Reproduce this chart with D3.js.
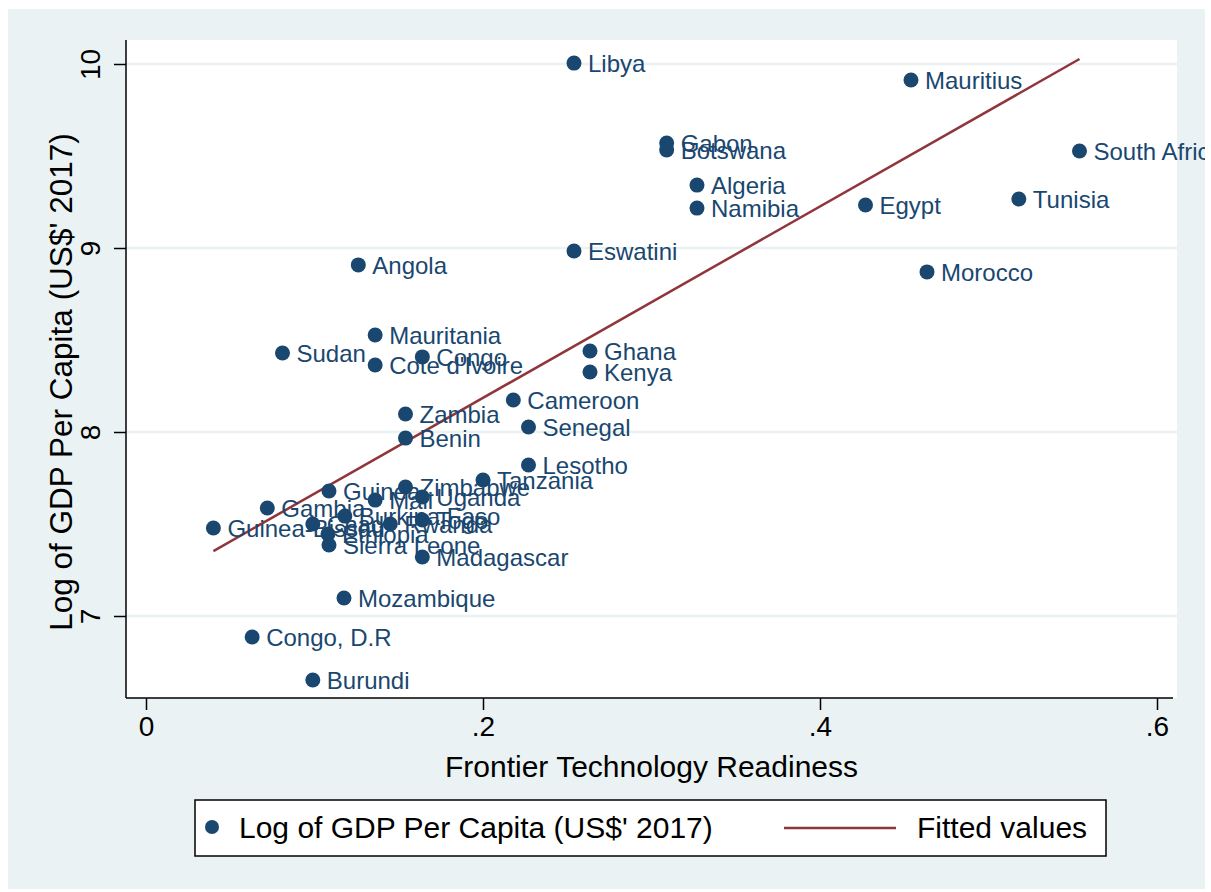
<!DOCTYPE html>
<html>
<head>
<meta charset="utf-8">
<script src="https://cdn.jsdelivr.net/npm/d3@7"></script>
<style>
  html, body { margin: 0; padding: 0; background: #ffffff; }
  svg { display: block; font-family: "Liberation Sans", Arial, Helvetica, sans-serif; }
</style>
</head>
<body>
<svg id="chart" width="1211" height="892"></svg>
<script>
// ---- Data ----
const countries = ["Libya","Mauritius","Gabon","Botswana","South Africa","Algeria","Namibia","Egypt","Tunisia","Eswatini","Angola","Morocco","Mauritania","Sudan","Congo","Cote d'Ivoire","Ghana","Kenya","Cameroon","Zambia","Senegal","Benin","Lesotho","Tanzania","Guinea","Zimbabwe","Mali","Uganda","Gambia","Guinea-Bissau","Chad","Burkina Faso","Ethiopia","Sierra Leone","Rwanda","Togo","Madagascar","Mozambique","Congo, D.R","Burundi"];
const frontierTech = [0.254,0.454,0.309,0.309,0.554,0.327,0.327,0.427,0.518,0.254,0.126,0.4635,0.136,0.081,0.164,0.136,0.2635,0.2635,0.218,0.154,0.227,0.154,0.227,0.200,0.1086,0.154,0.136,0.164,0.072,0.040,0.099,0.118,0.108,0.1086,0.145,0.164,0.164,0.1175,0.063,0.099];
const logGdp = [10.005,9.913,9.571,9.533,9.527,9.342,9.217,9.234,9.266,8.984,8.908,8.870,8.527,8.429,8.408,8.364,8.440,8.326,8.174,8.098,8.027,7.967,7.821,7.739,7.679,7.701,7.630,7.647,7.587,7.478,7.500,7.543,7.446,7.386,7.500,7.522,7.321,7.098,6.886,6.652];
const fitX = [0.040, 0.554];
const fitY = [7.353, 10.027];
const xTicks = [0, 0.2, 0.4, 0.6];
const xTickLabels = ["0", ".2", ".4", ".6"];
const yTicks = [7, 8, 9, 10];
const yTickLabels = ["7", "8", "9", "10"];
const xTitle = "Frontier Technology Readiness";
const yTitle = "Log of GDP Per Capita (US$' 2017)";
const legendLabels = ["Log of GDP Per Capita (US$' 2017)", "Fitted values"];

// ---- Styles ----
const BG = "#eaf2f3", NAVY = "#1a476f", MAROON = "#90353b";
const svg = d3.select("#chart");
const W = 1211, H = 892;
const plot = {left: 126, right: 1177, top: 40, bottom: 698};
const outer = {x: 8, y: 9, w: 1197, h: 880};

const x = d3.scaleLinear().domain([0, 0.6]).range([146, 1157]);
const y = d3.scaleLinear().domain([7, 10]).range([616, 64]);

svg.append("rect").attr("x", 0).attr("y", 0).attr("width", W).attr("height", H).attr("fill", "#fff");
svg.append("rect").attr("x", outer.x).attr("y", outer.y).attr("width", outer.w).attr("height", outer.h).attr("fill", BG);
svg.append("rect").attr("x", plot.left).attr("y", plot.top)
   .attr("width", plot.right - plot.left).attr("height", plot.bottom - plot.top).attr("fill", "#fff");

const defs = svg.append("defs");
defs.append("clipPath").attr("id", "clip")
   .append("rect").attr("x", plot.left).attr("y", plot.top)
   .attr("width", plot.right - plot.left).attr("height", plot.bottom - plot.top);
defs.append("clipPath").attr("id", "clipOuter")
   .append("rect").attr("x", outer.x).attr("y", outer.y).attr("width", outer.w).attr("height", outer.h);

// gridlines
svg.append("g").selectAll("line").data(yTicks).join("line")
   .attr("x1", plot.left).attr("x2", plot.right)
   .attr("y1", d => y(d)).attr("y2", d => y(d))
   .attr("stroke", BG).attr("stroke-width", 2.5);

const g = svg.append("g").attr("clip-path", "url(#clip)");

// fitted line
const fitData = fitX.map((v, i) => [v, fitY[i]]);
g.append("path").datum(fitData)
  .attr("d", d3.line().x(d => x(d[0])).y(d => y(d[1])))
  .attr("fill", "none").attr("stroke", MAROON).attr("stroke-width", 2.5);

const pts = countries.map((c, i) => ({name: c, fx: frontierTech[i], gy: logGdp[i]}));

g.append("g").selectAll("circle").data(pts).join("circle")
  .attr("cx", d => x(d.fx)).attr("cy", d => y(d.gy)).attr("r", 7.5)
  .attr("fill", NAVY);

svg.append("g").attr("clip-path", "url(#clipOuter)")
  .selectAll("text").data(pts).join("text")
  .attr("x", d => x(d.fx) + 14).attr("y", d => y(d.gy)).attr("dy", "0.36em")
  .attr("font-size", 24).attr("fill", NAVY).text(d => d.name);

// axes
const xAxis = d3.axisBottom(x).tickValues(xTicks).tickFormat((d, i) => xTickLabels[i]).tickSize(12).tickPadding(6);
const xg = svg.append("g").attr("transform", `translate(0,${plot.bottom})`).call(xAxis);
xg.select(".domain").remove();
xg.append("line").attr("x1", plot.left).attr("x2", plot.right - 4).attr("y1", 0).attr("y2", 0)
  .attr("stroke", "#000").attr("stroke-width", 1.5);
xg.selectAll(".tick line").attr("stroke", "#000").attr("stroke-width", 1.5);
xg.selectAll(".tick text").attr("font-size", 28).attr("fill", "#000")
  .attr("font-family", "'Liberation Sans', Arial, sans-serif");

const yAxis = d3.axisLeft(y).tickValues(yTicks).tickFormat((d, i) => yTickLabels[i]).tickSize(12).tickPadding(6);
const yg = svg.append("g").attr("transform", `translate(${plot.left},0)`).call(yAxis);
yg.select(".domain").remove();
yg.append("line").attr("x1", 0).attr("x2", 0).attr("y1", plot.top).attr("y2", plot.bottom)
  .attr("stroke", "#000").attr("stroke-width", 1.5);
yg.selectAll(".tick line").attr("stroke", "#000").attr("stroke-width", 1.5);
yg.selectAll(".tick text")
  .attr("font-size", 28).attr("fill", "#000")
  .attr("font-family", "'Liberation Sans', Arial, sans-serif")
  .attr("x", null).attr("dy", null)
  .attr("text-anchor", "middle")
  .attr("transform", "translate(-26,0) rotate(-90)");

// axis titles
svg.append("text").attr("x", (plot.left + plot.right) / 2).attr("y", 777)
  .attr("text-anchor", "middle").attr("font-size", 30).attr("fill", "#000").text(xTitle);
svg.append("text").attr("transform", `translate(72,382) rotate(-90)`)
  .attr("text-anchor", "middle").attr("font-size", 31.5).attr("fill", "#000").text(yTitle);

// legend
const lg = svg.append("g");
lg.append("rect").attr("x", 195).attr("y", 800).attr("width", 911).attr("height", 56)
  .attr("fill", "#fff").attr("stroke", "#000").attr("stroke-width", 1.5);
lg.append("circle").attr("cx", 212).attr("cy", 827).attr("r", 7).attr("fill", NAVY);
lg.append("text").attr("x", 239).attr("y", 838).attr("font-size", 30).attr("fill", "#000").text(legendLabels[0]);
lg.append("line").attr("x1", 784).attr("x2", 896).attr("y1", 828).attr("y2", 828)
  .attr("stroke", MAROON).attr("stroke-width", 2.5);
lg.append("text").attr("x", 917).attr("y", 838).attr("font-size", 30).attr("fill", "#000").text(legendLabels[1]);
</script>
</body>
</html>
